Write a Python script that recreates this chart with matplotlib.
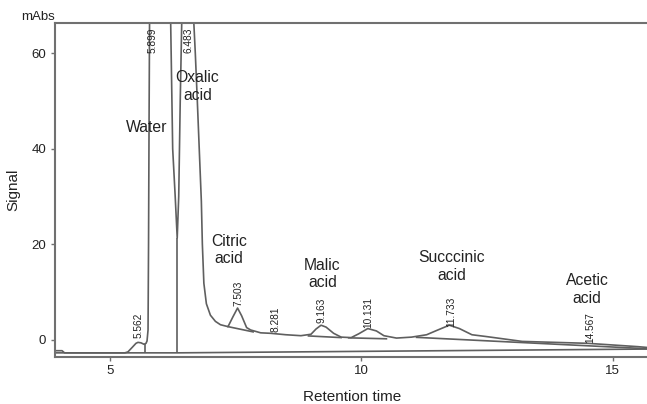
import numpy as np
import matplotlib
matplotlib.use('Agg')
from matplotlib import pyplot as plt

plt.rcParams['font.family'] = ['Liberation Sans', 'DejaVu Sans']

# Хроматограмма: время удерживания (мин) и сигнал (mAbs)
time = [3.90, 4.05, 4.10, 5.30, 5.36, 5.45, 5.52, 5.56, 5.62, 5.68, 5.72, 5.74,
        5.76, 5.77, 5.78, 5.79, 5.90, 6.10, 6.21, 6.25, 6.30, 6.34, 6.37, 6.40,
        6.43, 6.50, 6.60, 6.67, 6.70, 6.74, 6.82, 6.84, 6.87, 6.92, 7.00, 7.10,
        7.20, 7.35, 7.45, 7.54, 7.62, 7.72, 7.80, 8.00, 8.20, 8.50, 8.80, 9.00,
        9.10, 9.20, 9.30, 9.45, 9.60, 9.80, 9.95, 10.13, 10.30, 10.45, 10.70,
        11.00, 11.30, 11.50, 11.75, 11.95, 12.20, 12.50, 13.20, 14.50, 15.50, 15.72]
signal = [-2.35, -2.35, -2.8, -2.8, -2.6, -1.6, -0.8, -0.6, -0.7, -1.0, -0.8, -0.3,
          2.0, 20.0, 45.0, 66.5, 75.0, 75.0, 66.5, 40.0, 30.0, 21.3, 30.0, 50.0,
          66.5, 75.0, 75.0, 66.5, 60.0, 50.0, 29.0, 20.0, 11.8, 7.5, 5.1, 3.8,
          3.1, 2.7, 4.8, 6.6, 5.0, 2.5, 2.0, 1.4, 1.3, 1.0, 0.8, 1.1,
          2.2, 3.0, 2.6, 1.3, 0.5, 0.4, 1.2, 2.3, 1.8, 0.8, 0.3,
          0.5, 1.0, 1.9, 3.0, 2.3, 1.0, 0.6, -0.4, -0.8, -1.5, -1.7]

# Линии базовой линии интегрирования
base_t = [7.35, 7.85, np.nan, 8.95, 9.60, np.nan, 9.75, 10.50, np.nan, 11.10, 15.72]
base_y = [2.7, 1.6, np.nan, 0.75, 0.40, np.nan, 0.35, 0.15, np.nan, 0.45, -1.95]

# Нижняя линия (фон) и вертикальные линии разделения пиков
lower_t = [3.90, 6.34, 15.72]
lower_y = [-2.8, -2.8, -2.0]
drop_t = [5.69, 6.34]
drop_top = [-1.0, 21.3]

# Подписи пиков
peak_labels = ['5.562', '5.899', '6.483', '7.503', '8.281', '9.163', '10.131', '11.733', '14.567']
peak_x = [5.57, 5.85, 6.57, 7.55, 8.30, 9.20, 10.14, 11.78, 14.55]
peak_y = [0.3, 60.1, 60.1, 7.0, 1.6, 3.5, 2.4, 2.6, -0.7]

names = ['Water', 'Oxalic\nacid', 'Citric\nacid', 'Malic\nacid', 'Succcinic\nacid', 'Acetic\nacid']
name_x = [5.73, 6.74, 7.37, 9.23, 11.80, 14.49]
name_y = [44.4, 53.1, 18.8, 13.7, 15.3, 10.5]

fig = plt.figure(figsize=(6.47, 4.04), dpi=100)
ax = fig.add_axes([54.5 / 647, 1 - 357 / 404, 1 - 54.5 / 647 + 0.003, (357 - 22.7) / 404])

line_col = '#5f5f5f'
ax.plot(time, signal, color=line_col, lw=1.2)
ax.plot(base_t, base_y, color=line_col, lw=1.2)
ax.plot(lower_t, lower_y, color=line_col, lw=1.2)
ax.vlines(drop_t, lower_y[0], drop_top, color=line_col, lw=1.2)

for lab, x, y in zip(peak_labels, peak_x, peak_y):
    ax.text(x, y, lab, rotation=90, ha='center', va='bottom', fontsize=7.3, color='#222222')

for lab, x, y in zip(names, name_x, name_y):
    ax.text(x, y, lab, ha='center', va='center', fontsize=11.3, color='#222222',
            linespacing=1.2)

ax.set_xlim(3.90, 15.72)
ax.set_ylim(-3.67, 66.46)
ax.set_xticks([5, 10, 15])
ax.set_yticks([0, 20, 40, 60])

for s in ['left', 'top', 'bottom']:
    ax.spines[s].set_color('#707070')
    ax.spines[s].set_linewidth(1.5)
ax.spines['right'].set_visible(False)
ax.tick_params(direction='out', length=3, width=1, color='#707070',
               labelsize=9.5, labelcolor='#222222', pad=3)

ax.set_xlabel('Retention time', fontsize=11, color='#222222', labelpad=9)
ax.set_ylabel('Signal', fontsize=11, color='#222222', labelpad=8)
ax.text(0.0, 1.017, 'mAbs', transform=ax.transAxes, ha='right', va='center',
        fontsize=9.5, color='#222222')

plt.savefig('out.png', dpi=100)
